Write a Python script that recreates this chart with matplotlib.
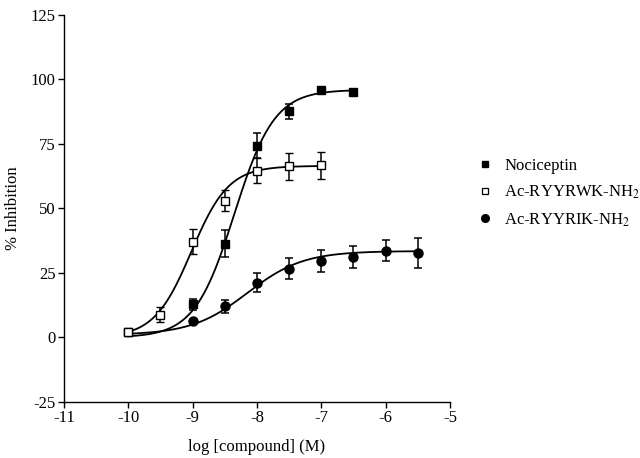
import numpy as np
import matplotlib
matplotlib.use("Agg")
import matplotlib.pyplot as plt
from matplotlib.lines import Line2D

plt.rcParams['font.family'] = ['Liberation Serif', 'DejaVu Serif']
plt.rcParams['mathtext.fontset'] = 'stix'
plt.rcParams['font.size'] = 12

# Data
noc_x = [-10, -9, -8.5, -8, -7.5, -7, -6.5]
noc_y = [2, 12.8, 36.4, 74.4, 87.6, 96, 95.3]
noc_err = [0, 2.3, 5.3, 5.0, 3.0, 0, 0]

rwk_x = [-10, -9.5, -9, -8.5, -8, -7.5, -7]
rwk_y = [2, 8.9, 37.2, 53, 64.7, 66.3, 66.7]
rwk_err = [0, 3.0, 4.8, 4.0, 5.0, 5.3, 5.2]

rik_x = [-9, -8.5, -8, -7.5, -7, -6.5, -6, -5.5]
rik_y = [6.3, 12.1, 21.2, 26.7, 29.6, 31.3, 33.6, 32.8]
rik_err = [0, 2.6, 3.7, 4.2, 4.4, 4.3, 4.1, 5.7]

# Fitted Hill-curve parameters (bottom, top, logEC50, slope, x-start, x-end)
noc_fit = (0.0, 96.0, -8.35, 1.4, -10, -6.5)
rwk_fit = (0.0, 66.5, -9.02, 1.5, -10, -7)
rik_fit = (1.0, 33.5, -8.15, 1.0, -10, -5.5)

labels = ['Nociceptin', 'Ac-RYYRWK-NH$_2$', 'Ac-RYYRIK-NH$_2$']
xticks = [-11, -10, -9, -8, -7, -6, -5]
yticks = [-25, 0, 25, 50, 75, 100, 125]


def hill(p):
    b, t, ec, h, x0, x1 = p
    xs = np.linspace(x0, x1, 300)
    return xs, b + (t - b) / (1 + 10 ** (h * (ec - xs)))


fig = plt.figure(figsize=(6.4, 4.58), dpi=100)
ax = fig.add_axes([0.1, 0.1223, 0.603, 0.845])

for p in (noc_fit, rwk_fit, rik_fit):
    xs, ys = hill(p)
    ax.plot(xs, ys, color='black', lw=1.3, zorder=2)

ekw = dict(ecolor='black', elinewidth=1.1, capsize=3.2, capthick=1.1, linestyle='none', zorder=3)
ax.errorbar(rik_x, rik_y, yerr=rik_err, marker='o', ms=6.5, mfc='black', mec='black', **ekw)
ax.errorbar(noc_x, noc_y, yerr=noc_err, marker='s', ms=6, mfc='black', mec='black', **ekw)
ax.errorbar(rwk_x, rwk_y, yerr=rwk_err, marker='s', ms=6, mfc='white', mec='black', mew=1.0, **ekw)

ax.set_xlim(-11, -5)
ax.set_ylim(-25, 125)
ax.set_xticks(xticks)
ax.set_yticks(yticks)
ax.set_xticklabels([str(v) for v in xticks])
ax.set_yticklabels([str(v) for v in yticks])
for s in ('top', 'right'):
    ax.spines[s].set_visible(False)
for s in ('left', 'bottom'):
    ax.spines[s].set_linewidth(1.0)
ax.tick_params(direction='out', length=4, width=1.0, pad=2)

ax.set_xlabel('log [compound] (M)', labelpad=9)
ax.set_ylabel('% Inhibition', labelpad=7)

handles = [
    Line2D([], [], marker='s', ls='none', ms=5, mfc='black', mec='black'),
    Line2D([], [], marker='s', ls='none', ms=5, mfc='white', mec='black', mew=0.9),
    Line2D([], [], marker='o', ls='none', ms=5.5, mfc='black', mec='black'),
]
fig.legend(handles, labels, loc='upper left', bbox_to_anchor=(0.737, 0.67),
           frameon=False, handlelength=0.8, handletextpad=0.75, labelspacing=0.6,
           borderaxespad=0, fontsize=12)

fig.savefig('out.png', dpi=100)
